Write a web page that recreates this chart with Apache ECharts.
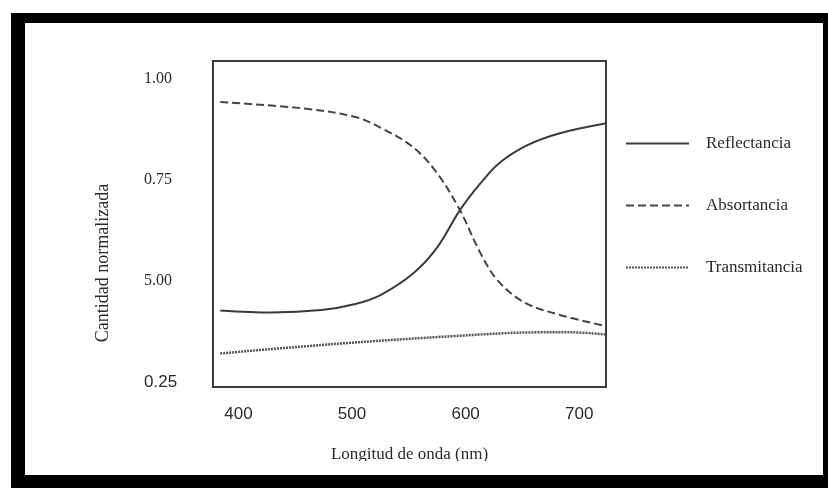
<!DOCTYPE html>
<html>
<head>
<meta charset="utf-8">
<script src="https://cdn.jsdelivr.net/npm/echarts@6/dist/echarts.min.js"></script>
<style>
  html, body { margin: 0; padding: 0; background: #fff; }
  #frame { position: absolute; left: 11px; top: 13px; width: 817px; height: 475px; background: #000; }
  #inner { position: absolute; left: 14px; top: 10px; width: 798px; height: 452px; background: #fff; }
  #chart { position: absolute; left: 0; top: 0; width: 828px; height: 488px; }
</style>
</head>
<body>
<div id="frame"><div id="inner"></div></div>
<div id="chart"></div>
<script>
// longitudes de onda (nm) y valores
const reflX = [384, 429, 473, 503, 525, 554, 575, 595, 613, 630, 654, 683, 723]
const reflY = [0.427, 0.422, 0.428, 0.443, 0.465, 0.519, 0.583, 0.675, 0.741, 0.792, 0.835, 0.865, 0.889]

const absX = [384, 458, 503, 525, 554, 575, 595, 613, 628, 651, 683, 723]
const absY = [0.942, 0.926, 0.905, 0.879, 0.830, 0.766, 0.675, 0.569, 0.502, 0.448, 0.416, 0.389]

const transX = [384, 488, 591, 664, 694, 723]
const transY = [0.321, 0.345, 0.364, 0.373, 0.373, 0.368]

const xTicks = [400, 500, 600, 700]
const yTicks = [0.25, 0.5, 0.75, 1.0]
const yTickLabels = ['0.25', '5.00', '0.75', '1.00']

const seriesNames = ['Reflectancia', 'Absortancia', 'Transmitancia']

const serif = 'Liberation Serif, Times New Roman, serif'
const sans = 'Liberation Sans, Arial, sans-serif'

const pairs = (xs, ys) => xs.map((x, i) => [x, ys[i]])

let chart = echarts.init(document.getElementById('chart'), null, { renderer: 'canvas' })

let option = {
  backgroundColor: 'transparent',
  animation: false,
  grid: {
    left: 213, top: 61, right: 222, bottom: 101,
    show: true, borderColor: '#3c3c3c', borderWidth: 2,
    backgroundColor: 'transparent'
  },
  legend: {
    orient: 'vertical',
    left: 620,
    top: 130,
    itemWidth: 63,
    itemHeight: 14,
    itemGap: 45,
    data: seriesNames,
    itemStyle: { opacity: 0 },
    textStyle: { fontFamily: serif, fontSize: 17, color: '#2a2a2a', padding: [0, 0, 0, 12] }
  },
  xAxis: {
    type: 'value',
    min: 377.6,
    max: 723.6,
    name: 'Longitud de onda (nm)',
    nameLocation: 'middle',
    nameGap: 59,
    nameTextStyle: { fontFamily: serif, fontSize: 17, color: '#2a2a2a' },
    axisLine: { show: false },
    axisTick: { show: false },
    splitLine: { show: false },
    axisLabel: {
      customValues: xTicks,
      margin: 19,
      fontFamily: sans, fontSize: 17, color: '#2a2a2a'
    }
  },
  yAxis: {
    type: 'value',
    min: 0.238,
    max: 1.0435,
    axisLine: { show: false },
    axisTick: { show: false },
    splitLine: { show: false },
    axisLabel: {
      customValues: yTicks,
      align: 'left',
      margin: 69,
      color: '#2a2a2a',
      fontFamily: serif, fontSize: 16,
      formatter: (v) => {
        let i = yTicks.findIndex(t => Math.abs(t - v) < 1e-6)
        if (i < 0) return ''
        return i === 0 ? '{s|' + yTickLabels[i] + '}' : yTickLabels[i]
      },
      rich: { s: { fontFamily: sans, fontSize: 17, color: '#2a2a2a' } }
    }
  },
  graphic: [
    {
      type: 'text',
      x: 103, y: 263,
      rotation: Math.PI / 2,
      style: {
        text: 'Cantidad normalizada',
        font: '18px ' + serif,
        fill: '#2a2a2a',
        align: 'center',
        verticalAlign: 'middle'
      }
    },
    {
      // recorte de la captura original sobre el titulo del eje x
      type: 'rect',
      z: 100,
      shape: { x: 300, y: 461, width: 220, height: 14 },
      style: { fill: '#fff' }
    }
  ],
  series: [
    {
      name: seriesNames[0],
      type: 'line',
      smooth: 0.35,
      symbol: 'none',
      data: pairs(reflX, reflY),
      lineStyle: { color: '#3a3a3a', width: 2 },
      itemStyle: { color: '#3a3a3a' }
    },
    {
      name: seriesNames[1],
      type: 'line',
      smooth: 0.35,
      symbol: 'none',
      data: pairs(absX, absY),
      lineStyle: { color: '#454545', width: 2, type: [8, 4] },
      itemStyle: { color: '#454545' }
    },
    {
      name: seriesNames[2],
      type: 'line',
      smooth: 0.35,
      symbol: 'none',
      data: pairs(transX, transY),
      lineStyle: { color: '#555', width: 2.5, type: [2, 1] },
      itemStyle: { color: '#555' }
    }
  ]
}

chart.setOption(option)
</script>
</body>
</html>
